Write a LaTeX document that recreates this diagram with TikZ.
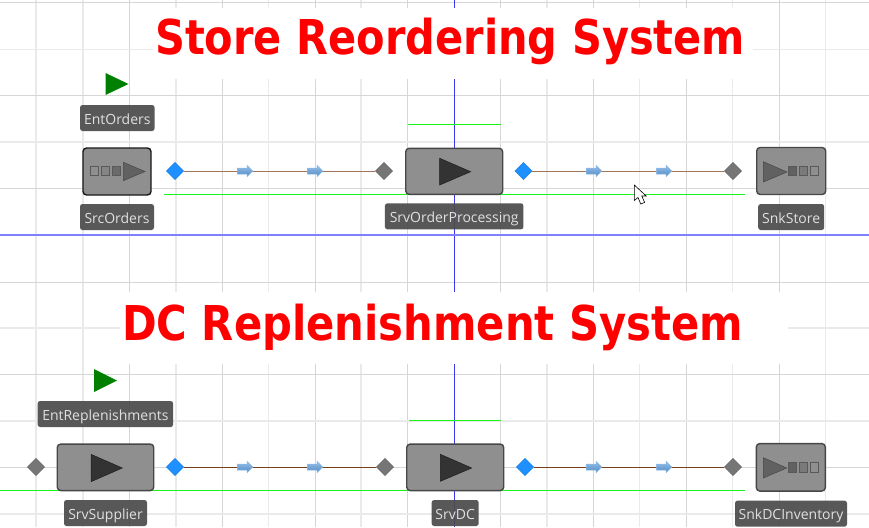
\documentclass[tikz,border=0pt]{standalone}
\usepackage{fontspec}
\setmainfont{Open Sans}
\newfontfamily\titlefont{DejaVu Sans}
\usetikzlibrary{shapes.geometric}
\definecolor{gridc}{HTML}{D6D6D6}
\definecolor{gridl}{HTML}{EAEAEA}
\definecolor{labelbg}{HTML}{4C4C4C}
\definecolor{boxbg}{HTML}{8F8F8F}
\definecolor{inport}{HTML}{767676}
\definecolor{outport}{HTML}{1E90FF}
\definecolor{pathc}{HTML}{A47458}
\definecolor{pathd}{HTML}{7A3E18}
\definecolor{axisx}{HTML}{8080FF}
\definecolor{axisy}{HTML}{3838F0}
\definecolor{flow}{HTML}{5C9BDC}
\definecolor{greenl}{HTML}{18F818}
\newcommand{\fitw}[2]{\resizebox{#1}{\height}{#2}}
\tikzset{
  x=1pt,y=-1pt,
  gridline/.style={gridc,line width=.9pt},
  gridlight/.style={gridl,line width=1.3pt},
  labelbox/.style={rectangle,rounded corners=2.5pt,fill=labelbg,fill opacity=.93,text opacity=1,text=white!88!black,font=\fontsize{14}{16}\selectfont,inner sep=0pt,minimum height=26pt,text height=12pt,text depth=0pt,anchor=center},
  block/.style={rectangle,rounded corners=3.5pt,draw=black!72,fill=boxbg,line width=1.4pt,inner sep=0pt,anchor=center},
  inp/.style={diamond,aspect=1,fill=inport,draw=inport!85!black,line width=.4pt,minimum size=17.5pt,inner sep=0pt},
  outp/.style={diamond,aspect=1,fill=outport,draw=outport!85!black,line width=.4pt,minimum size=17.5pt,inner sep=0pt},
  titletext/.style={text=red,font=\titlefont\bfseries\fontsize{48}{52}\selectfont,inner sep=0pt,anchor=base west},
  greenline/.style={greenl,line width=1pt},
  pathup/.style={pathc,line width=.8pt},
  pathlow/.style={pathd,line width=.8pt},
  bigtri/.style={fill=black!80,draw=black!88,line width=.5pt},
  smalltri/.style={fill=black!62,draw=black!72,line width=.5pt},
  entrytri/.style={fill=green!50!black,draw=none},
  qbox/.style={draw=black!65,line width=.6pt},
  flowar/.pic={
    \path[top color=flow!65!white,bottom color=flow!90!black,draw=flow!70!white,line width=.5pt]
      (-7.7,-3) -- (2.2,-3) -- (2.2,-5.5) -- (7.7,0) -- (2.2,5.5) -- (2.2,3) -- (-7.7,3) -- cycle;
  },
}
\begin{document}
\begin{tikzpicture}
\useasboundingbox (0,0) rectangle (869,527);
\fill[white] (0,0) rectangle (869,527);
% grid
\foreach \gx in {129,222,315,407.5,500.5,593,686,779}
  \draw[gridline] (\gx,0) -- (\gx,527);
\foreach \gx in {36,83,176,268.5,361,547,639.5,732.5,825.5}
  \draw[gridlight] (\gx,0) -- (\gx,527);
\foreach \gy in {2.5,95.5,188.5,282,374,467}
  \draw[gridline] (0,\gy) -- (869,\gy);
\foreach \gy in {49.5,142,328,421,514}
  \draw[gridlight] (0,\gy) -- (869,\gy);
\draw[axisy,line width=1pt] (454,0) -- (454,527);
% title masks
\fill[white] (153,8) rectangle (753,79);
\fill[white] (120,292) rectangle (788,364);
\draw[axisx,line width=1.5pt] (0,235) -- (869,235);
% titles
\node[titletext] (title1) at (155,55) {\fitw{590pt}{Store Reordering System}};
\node[titletext] (title2) at (122,340) {\fitw{621pt}{DC Replenishment System}};
% green lines
\draw[greenline] (164,194.5) -- (745,194.5);
\draw[greenline] (408,124.5) -- (500.5,124.5);
\draw[greenline] (0,490.7) -- (745,490.7);
\draw[greenline] (409,420.7) -- (501,420.7);
% ports
\node[outp] (o1) at (175,171) {};
\node[inp]  (i2) at (384,171) {};
\node[outp] (o2) at (523.5,171) {};
\node[inp]  (i3) at (733,171) {};
\node[inp]  (i4) at (36,467) {};
\node[outp] (o4) at (175,467) {};
\node[inp]  (i5) at (385,467) {};
\node[outp] (o5) at (525,467) {};
\node[inp]  (i6) at (733,467) {};
% paths
\draw[pathup] (o1) -- (i2);
\draw[pathup] (o2) -- (i3);
\draw[pathlow] (o4) -- (i5);
\draw[pathlow] (o5) -- (i6);
\foreach \fy in {171,467}
  \foreach \fx in {245,315,594,664}
    \pic at (\fx,\fy) {flowar};
% blocks
\node[block,draw=black!90,minimum width=68pt,minimum height=47pt] (src) at (117,171.5) {};
\node[block,minimum width=97pt,minimum height=46pt] (srv) at (454.2,171.3) {};
\node[block,minimum width=69pt,minimum height=47pt] (snk) at (791.2,171) {};
\node[block,minimum width=96.5pt,minimum height=46.5pt] (sup) at (105.5,467.3) {};
\node[block,minimum width=97pt,minimum height=46.5pt] (dc) at (455.2,467.3) {};
\node[block,minimum width=69pt,minimum height=47.5pt] (snkdc) at (790.8,467.3) {};
% block symbols
\draw[qbox,fill=boxbg] (90.3,166.7) rectangle (98.7,175.7);
\draw[qbox,fill=black!48] (101.3,166.7) rectangle (109.3,175.7);
\draw[qbox,fill=black!58] (112,166.7) rectangle (120.3,175.7);
\draw[smalltri] (123.3,162.3) -- (145,171.5) -- (123.3,180.7) -- cycle;
\draw[bigtri] (439.7,158.3) -- (470.7,171.7) -- (439.7,185) -- cycle;
\draw[smalltri] (763.3,161.7) -- (787,172) -- (763.3,182) -- cycle;
\draw[qbox,fill=black!62] (788,166) rectangle (796,175.7);
\draw[qbox,fill=black!52] (799,166) rectangle (807,175.7);
\draw[qbox,fill=boxbg] (810.3,166) rectangle (818.7,175.7);
\draw[bigtri] (91,454.3) -- (122.3,468) -- (91,481.7) -- cycle;
\draw[bigtri] (440.3,454.3) -- (471.7,468) -- (440.3,481.3) -- cycle;
\draw[smalltri] (763.3,457.7) -- (786.7,468) -- (763.3,478) -- cycle;
\draw[qbox,fill=black!62] (788,462.3) rectangle (796,472.3);
\draw[qbox,fill=black!52] (799,462.3) rectangle (807,472.3);
\draw[qbox,fill=boxbg] (810.3,462.3) rectangle (818.7,472.3);
% entries
\fill[entrytri] (105.5,73) -- (128.5,84) -- (105.5,95) -- cycle;
\fill[entrytri] (94,369) -- (117,380.5) -- (94,392) -- cycle;
% labels
\node[labelbox,minimum width=74.5pt] (lbl1) at (117.3,118) {EntOrders};
\node[labelbox,minimum width=74pt] (lbl2) at (117,217) {SrcOrders};
\node[labelbox,minimum width=138.5pt] (lbl3) at (454.2,216.3) {SrvOrderProcessing};
\node[labelbox,minimum width=66pt] (lbl4) at (791.2,217) {SnkStore};
\node[labelbox,minimum width=135.5pt] (lbl5) at (105.4,414) {EntReplenishments};
\node[labelbox,minimum width=83pt] (lbl6) at (105.5,513) {SrvSupplier};
\node[labelbox,minimum width=47pt] (lbl7) at (455.2,513) {SrvDC};
\node[labelbox,minimum width=112pt] (lbl8) at (791,513.7) {SnkDCInventory};
% cursor
\draw[fill=white,draw=black,line width=.6pt,line join=miter]
  (634.3,185) -- (634.3,200.5) -- (638,197.5) -- (640.8,204) -- (644.6,202.4) -- (641.8,196) -- (646.2,196) -- cycle;
\end{tikzpicture}
\end{document}
